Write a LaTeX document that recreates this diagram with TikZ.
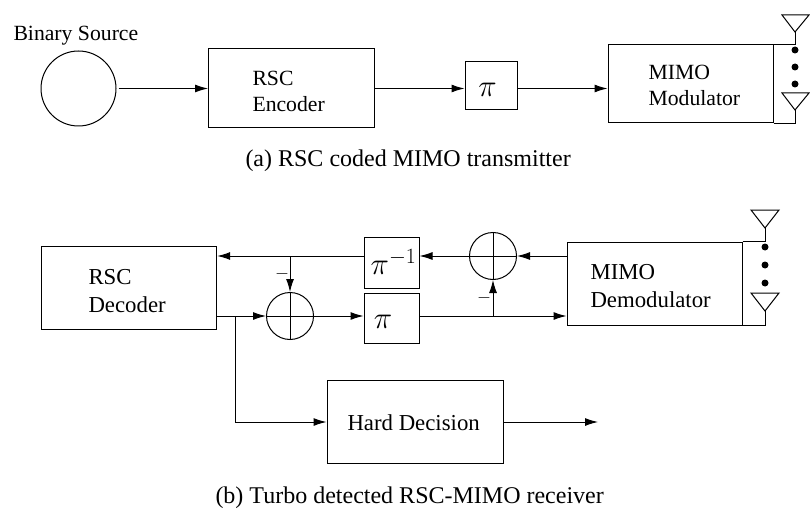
\documentclass[tikz,border=0pt]{standalone}
\usepackage{fix-cm}
\usepackage{fontspec}
\setmainfont{Liberation Serif}
\usetikzlibrary{arrows.meta}
\begin{document}
\begin{tikzpicture}[x=1pt,y=-1pt,line width=1pt]
		\tikzstyle{BLK}=[rectangle,draw=black,inner sep=0pt]
		\tikzstyle{XOR}=[circle,draw=black,minimum size=47pt,inner sep=0pt]
		\tikzstyle{TX}=[font=\fontsize{21.7}{26}\selectfont,inner sep=0pt,align=left,anchor=base west]
		\tikzstyle{RX}=[font=\fontsize{22.8}{28}\selectfont,inner sep=0pt,align=left,anchor=base west]
		\tikzstyle{CAP}=[font=\fontsize{24}{28}\selectfont,inner sep=0pt,anchor=base west]
		\tikzstyle{PI}=[font=\fontsize{31}{31}\selectfont,inner sep=0pt]
		\tikzstyle{MINUS}=[font=\fontsize{18}{18}\selectfont,inner sep=0pt]
		\tikzstyle{DOT}=[circle,fill=black,inner sep=0pt,minimum size=7pt]
		\tikzstyle{LINK}=[-{Latex[length=13pt,width=8pt]}]
		\useasboundingbox (0,0) rectangle (810,513);
		
		% transmitter
		\begin{scope}
		\node[TX] (src-lab) at (13,40.7) {Binary Source};
		\node[XOR,minimum size=75pt] (src) at (78.5,88.5) {};
		\node[BLK,minimum width=165.5pt,minimum height=79pt] (enc) at (291.25,88.5) {};
		\node[TX] (enc-lab) at (252,112) {RSC\\Encoder};
		\node[BLK,minimum width=52pt,minimum height=48pt] (pi1) at (491,86) {};
		\node[PI] (pi1-lab) at (487.5,90) {$\pi$};
		\node[BLK,minimum width=165pt,minimum height=78pt] (mod) at (690.5,84) {};
		\node[TX] (mod-lab) at (648,106) {MIMO\\Modulator};
		\node[CAP] (cap-a) at (245,167) {(a) RSC coded MIMO transmitter};
		\node[DOT] (d1) at (795,50) {};
		\node[DOT] (d2) at (795,67) {};
		\node[DOT] (d3) at (795,84) {};
		\coordinate (a1) at (795,32);
		\coordinate (a2) at (795,110);
		\end{scope}
		
		% receiver
		\begin{scope}
		\node[BLK,minimum width=175pt,minimum height=83.3pt] (dec) at (129.2,287.7) {};
		\node[RX] (dec-lab) at (88,312) {RSC\\Decoder};
		\node[XOR] (xor1) at (290,316) {};
		\node[XOR] (xor2) at (493,256) {};
		\node[BLK,minimum width=55pt,minimum height=51pt] (piinv) at (391.5,262.5) {};
		\node[PI] (piinv-lab) at (393.5,262) {$\pi^{-1}$};
		\node[BLK,minimum width=55pt,minimum height=50pt] (pi2) at (391.5,318) {};
		\node[PI] (pi2-lab) at (383,322) {$\pi$};
		\node[BLK,minimum width=175pt,minimum height=83pt] (dem) at (654.5,283.5) {};
		\node[RX] (dem-lab) at (590,307) {MIMO\\Demodulator};
		\node[BLK,minimum width=176pt,minimum height=83pt] (hard) at (415,421.5) {};
		\node[RX] (hard-lab) at (347,430.7) {Hard Decision};
		\node[CAP] (cap-b) at (215,503) {(b) Turbo detected RSC-MIMO receiver};
		\node[MINUS] (m1) at (282,274) {$-$};
		\node[MINUS] (m2) at (484,298) {$-$};
		\node[DOT] (d4) at (765,247) {};
		\node[DOT] (d5) at (765,265) {};
		\node[DOT] (d6) at (765,283) {};
		\coordinate (a3) at (765,228);
		\coordinate (a4) at (765,311);
		\coordinate (out) at (598,422);
		\coordinate (tap) at (235,316);
		\coordinate (fb) at (290,256);
		\coordinate (br) at (493,316);
		\end{scope}
		
		% antennas
		\draw (782,15) -- (809,15) -- (a1) -- cycle;
		\draw (782,93) -- (809,93) -- (a2) -- cycle;
		\draw (751,210) -- (779,210) -- (a3) -- cycle;
		\draw (751,293) -- (779,293) -- (a4) -- cycle;
		\draw (mod.north east) -- (mod.north east -| a1) -- (a1);
		\draw (mod.south east) -- (mod.south east -| a2) -- (a2);
		\draw (dem.north east) -- (dem.north east -| a3) -- (a3);
		\draw (dem.south east) -- (dem.south east -| a4) -- (a4);
		
		\draw (xor1.north) -- (xor1.south) (xor1.west) -- (xor1.east);
		\draw (xor2.north) -- (xor2.south) (xor2.west) -- (xor2.east);
		
		\path[LINK]
		(src) edge[shorten <=2pt] (src -| enc.west)
		(src -| enc.east) edge (src -| pi1.west)
		(src -| pi1.east) edge (src -| mod.west)
		(xor2 -| dem.west) edge (xor2)
		(xor2) edge (xor2 -| piinv.east)
		(xor2 -| piinv.west) edge (xor2 -| dec.east)
		(fb) edge (xor1)
		(xor1 -| dec.east) edge (xor1)
		(xor1) edge (xor1 -| pi2.west)
		(br) edge (xor2)
		(xor1 -| pi2.east) edge (xor1 -| dem.west)
		(tap |- out) edge (out -| hard.west)
		(out -| hard.east) edge (out)
		;
		\draw (tap) -- (tap |- out);
		\end{tikzpicture}
\end{document}
